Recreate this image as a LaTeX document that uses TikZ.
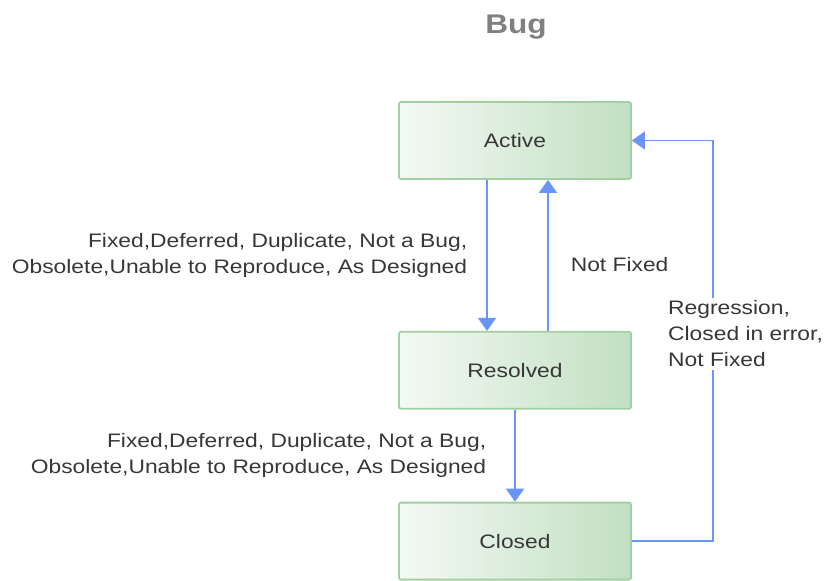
\documentclass[tikz,border=0pt]{standalone}
\usepackage{fontspec}
\setmainfont{Liberation Sans}[FakeStretch=1.17]
\usepackage{tikz}
\usetikzlibrary{positioning,arrows.meta}
\definecolor{boxedge}{RGB}{160,208,160}
\definecolor{boxleft}{RGB}{244,249,244}
\definecolor{boxright}{RGB}{194,223,194}
\definecolor{flowblue}{RGB}{105,148,250}
\definecolor{txtgray}{RGB}{55,55,55}
\definecolor{titlegray}{RGB}{128,128,128}

\begin{document}
\begin{tikzpicture}[x=1pt, y=-1pt,
                    every node/.append style = {font=\fontsize{19.5}{26}\selectfont, text=txtgray},
                    stbox/.style = {draw=boxedge, line width=1.8pt, rounded corners=2pt,
                                    left color=boxleft, right color=boxright,
                                    minimum width=232pt, minimum height=77pt, inner sep=0pt},
                    flow/.style = {draw=flowblue, line width=1.6pt, -{Triangle[length=13pt,width=18pt]}},
                    lbl/.style = {align=right, inner sep=0pt}]
                \useasboundingbox (0,0) rectangle (828,581);
                \node[font=\bfseries\fontsize{27}{30}\selectfont, text=titlegray, anchor=base] (nt) at (516,33) {Bug};
                \node[stbox] (na) at (515,140.5) {Active};
                \node[stbox, below=151pt of na] (nr) {Resolved};
                \node[stbox, below=92pt of nr] (nc) {Closed};
                \draw[flow] ([xshift=-28pt]na.south) -- ([xshift=-28pt]nr.north)
                    node[lbl, midway, left=19pt] {Fixed,Deferred, Duplicate, Not a Bug,\\Obsolete,Unable to Reproduce, As Designed};
                \draw[flow] ([xshift=33pt]nr.north) -- ([xshift=33pt]na.south)
                    node[lbl, pos=0.44, right=22pt] {Not Fixed};
                \draw[flow] (nr) -- (nc)
                    node[lbl, midway, left=28pt] {Fixed,Deferred, Duplicate, Not a Bug,\\Obsolete,Unable to Reproduce, As Designed};
                \coordinate (nturn) at (713,141);
                \draw[flow] (nc.east) -| (nturn) |- (na.east);
                \node[lbl, align=left, anchor=west, fill=white, inner sep=3pt] (ng) at (665,334) {Regression,\\Closed in error,\\Not Fixed};
                \end{tikzpicture}
\end{document}
